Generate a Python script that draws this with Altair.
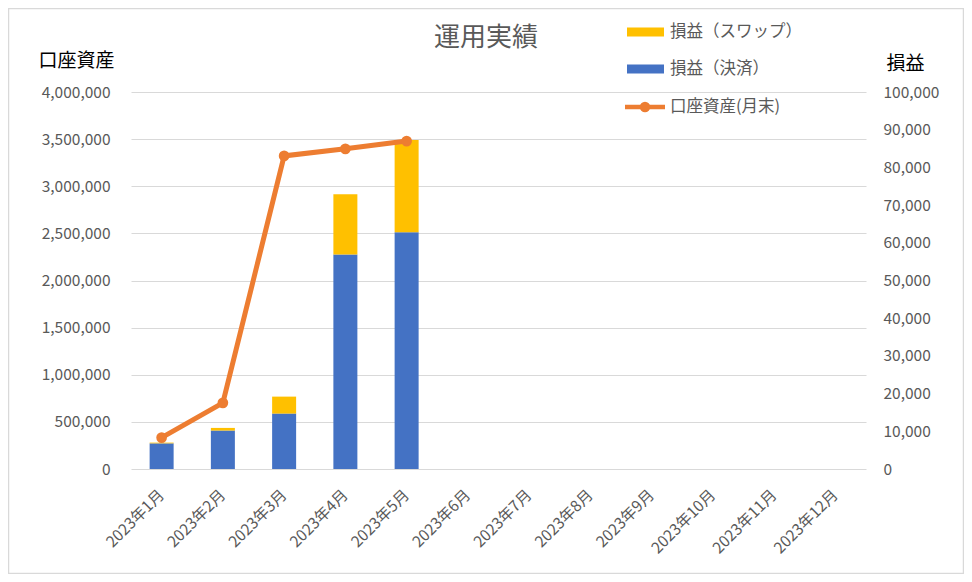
import altair as alt
import pandas as pd

FONT = "Noto Sans CJK JP"
GRAY = "#595959"

months = ["2023年1月", "2023年2月", "2023年3月", "2023年4月", "2023年5月", "2023年6月",
          "2023年7月", "2023年8月", "2023年9月", "2023年10月", "2023年11月", "2023年12月"]
data_months = ["2023年1月", "2023年2月", "2023年3月", "2023年4月", "2023年5月"]
settled = [6800, 10200, 14700, 56900, 62800]
swap = [200, 700, 4500, 16000, 24500]
assets = [333000, 702000, 3322000, 3397000, 3479000]

series_names = ["損益（決済）", "損益（スワップ）"]
series_colors = ["#4472C4", "#FFC000"]
line_name = "口座資産(月末)"
line_color = "#ED7D31"

rows = []
for m, s, w in zip(data_months, settled, swap):
    rows.append({"month": m, "series": series_names[0], "value": s, "ord": 0})
    rows.append({"month": m, "series": series_names[1], "value": w, "ord": 1})
bar_df = pd.DataFrame(rows)
line_df = pd.DataFrame({"month": data_months, "assets": assets})
one = pd.DataFrame({"k": [0]})

x_enc = alt.X("month:N", scale=alt.Scale(domain=months, paddingInner=0, paddingOuter=0),
              sort=months,
              axis=alt.Axis(title=None, labelAngle=-45, labelAlign="right", labelBaseline="top",
                            labelPadding=18, labelOffset=-5, ticks=False, domain=False, grid=False,
                            labelFontSize=15.5, labelColor=GRAY, labelFont=FONT))

bars = alt.Chart(bar_df).mark_bar(size=24).encode(
    x=x_enc,
    y=alt.Y("value:Q", stack="zero",
            scale=alt.Scale(domain=[0, 100000], nice=False),
            axis=alt.Axis(orient="right", title="損益", titleAngle=0, titleX=39, titleY=-29,
                          titleAlign="center", titleBaseline="middle", titleFontSize=19,
                          titleFontWeight="normal", titleColor="#000000", titleFont=FONT,
                          values=list(range(0, 100001, 10000)),
                          labelExpr="format(datum.value, ',')", grid=False,
                          ticks=False, domain=False, labelPadding=17, labelFontSize=15.5,
                          labelColor=GRAY, labelFont=FONT)),
    color=alt.Color("series:N", scale=alt.Scale(domain=series_names, range=series_colors), legend=None),
    order=alt.Order("ord:Q"),
)

line = alt.Chart(line_df).mark_line(color=line_color, strokeWidth=5,
                                    point=alt.OverlayMarkDef(color=line_color, size=115, filled=True, opacity=1)).encode(
    x=alt.X("month:N", sort=months),
    y=alt.Y("assets:Q", scale=alt.Scale(domain=[0, 4000000], nice=False),
            axis=alt.Axis(orient="left", title="口座資産", titleAngle=0, titleX=-55, titleY=-32,
                          titleAlign="center", titleBaseline="middle", titleFontSize=19,
                          titleFontWeight="normal", titleColor="#000000", titleFont=FONT,
                          values=list(range(0, 4000001, 500000)),
                          labelExpr="format(datum.value, ',')", grid=True,
                          gridColor="#D9D9D9", gridWidth=1.2, ticks=False, domain=False,
                          labelPadding=21, labelFontSize=15.5, labelColor=GRAY, labelFont=FONT)),
)

title = alt.Chart(one).mark_text(text="運用実績", font=FONT, fontSize=26, color=GRAY,
                                 align="center", baseline="middle").encode(
    x=alt.value(355), y=alt.value(-54))

leg_font = 16.5
leg = []
leg_labels = ["損益（スワップ）", "損益（決済）", line_name]
leg_y = [-60, -23, 15]
leg_cols = ["#FFC000", "#4472C4"]
for i in range(2):
    leg.append(alt.Chart(one).mark_rect(color=leg_cols[i]).encode(
        x=alt.value(496), x2=alt.value(533), y=alt.value(leg_y[i] - 4.5), y2=alt.value(leg_y[i] + 4.5)))
leg.append(alt.Chart(one).mark_rule(color=line_color, strokeWidth=4.5).encode(
    x=alt.value(494), x2=alt.value(534), y=alt.value(leg_y[2])))
leg.append(alt.Chart(one).mark_point(color=line_color, filled=True, size=110, opacity=1).encode(
    x=alt.value(514), y=alt.value(leg_y[2])))
for i in range(3):
    leg.append(alt.Chart(one).mark_text(text=leg_labels[i], font=FONT, fontSize=leg_font, color=GRAY,
                                        align="left", baseline="middle").encode(
        x=alt.value(539), y=alt.value(leg_y[i])))

border = alt.Chart(one).mark_rect(fill="transparent", stroke="#D9D9D9", strokeWidth=1.5).encode(
    x=alt.value(-122.5), x2=alt.value(832.5), y=alt.value(-83.5), y2=alt.value(481.5))

chart = alt.layer(bars, line, title, *leg, border).resolve_scale(y="independent").properties(
    width=735, height=377,
    padding={"left": 123, "top": 84, "right": 98, "bottom": 105},
    autosize="none",
).configure(font=FONT).configure_view(stroke="#FFFFFF", strokeWidth=2.5).configure_axis(domain=False)

chart.save("out.html", embed_options={"renderer": "svg", "actions": False})
